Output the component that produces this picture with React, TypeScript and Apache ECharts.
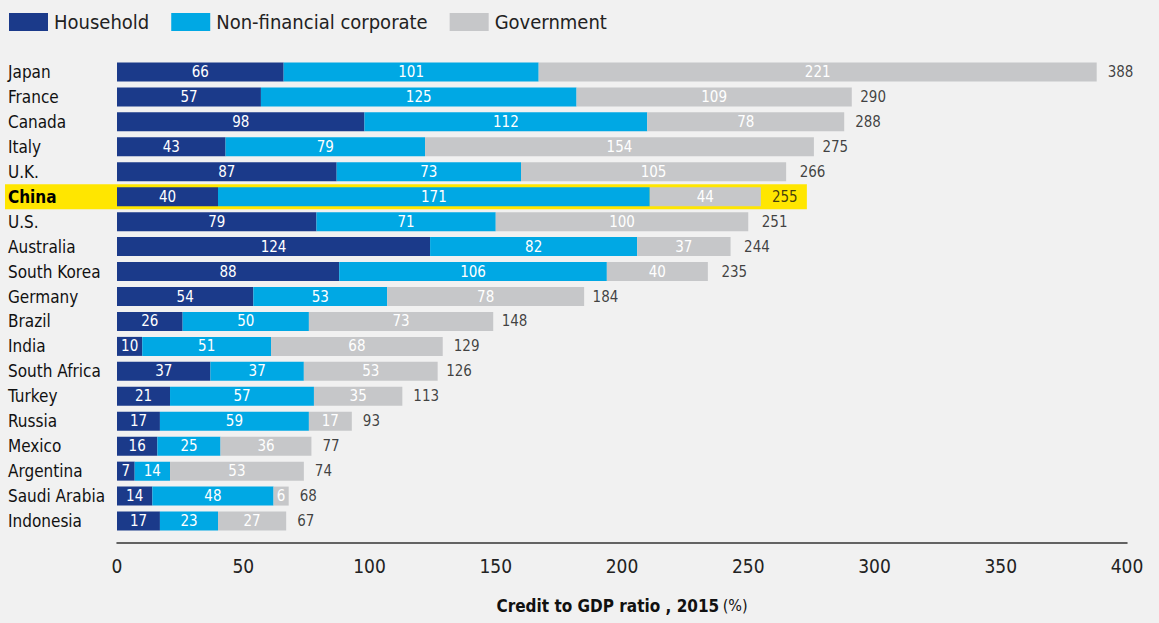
import React, { useEffect, useRef } from "react";
import * as echarts from "echarts";

const countries = [
  "Japan", "France", "Canada", "Italy", "U.K.", "China", "U.S.", "Australia",
  "South Korea", "Germany", "Brazil", "India", "South Africa", "Turkey", "Russia",
  "Mexico", "Argentina", "Saudi Arabia", "Indonesia",
];
const household = [66, 57, 98, 43, 87, 40, 79, 124, 88, 54, 26, 10, 37, 21, 17, 16, 7, 14, 17];
const corporate = [101, 125, 112, 79, 73, 171, 71, 82, 106, 53, 50, 51, 37, 57, 59, 25, 14, 48, 23];
const government = [221, 109, 78, 154, 105, 44, 100, 37, 40, 78, 73, 68, 53, 35, 17, 36, 53, 6, 27];
const totals = [388, 290, 288, 275, 266, 255, 251, 244, 235, 184, 148, 129, 126, 113, 93, 77, 74, 68, 67];
const xTicks = [0, 50, 100, 150, 200, 250, 300, 350, 400];

const FONT = "'Liberation Sans Narrow', 'DejaVu Sans Condensed', 'Roboto', sans-serif";
const C_HH = "#1b3a8a";
const C_CORP = "#00a8e4";
const C_GOV = "#c6c7c9";

export default function App() {
  const ref = useRef<HTMLDivElement>(null);
  useEffect(() => {
    if (!ref.current) return;
    const chart = echarts.init(ref.current, null, { renderer: "svg" });
    const inLabel = {
      show: true,
      position: "inside" as const,
      color: "#ffffff",
      fontSize: 15,
      fontFamily: FONT,
    };
    const barCommon = {
      type: "bar" as const,
      stack: "total",
      barWidth: 19,
      label: inLabel,
      emphasis: { disabled: true },
      z: 3,
    };
    chart.setOption({
      animation: false,
      backgroundColor: "#f1f1f1",
      textStyle: { fontFamily: FONT },
      legend: {
        left: 9,
        top: 12,
        padding: 0,
        itemWidth: 39,
        itemHeight: 18,
        itemGap: 22,
        selectedMode: false,
        icon: "rect",
        textStyle: { fontSize: 20, color: "#222", fontFamily: FONT, padding: [0, 0, 0, 1] },
        data: ["Household", "Non-financial corporate", "Government"],
      },
      grid: { left: 117, right: 32, top: 59.5, bottom: 89.5, containLabel: false },
      xAxis: {
        type: "value",
        min: 0,
        max: 400,
        interval: 50,
        offset: 9.5,
        axisLine: { show: true, lineStyle: { color: "#333", width: 1.5 } },
        axisTick: { show: false },
        splitLine: { show: false },
        axisLabel: {
          fontSize: 19,
          color: "#222",
          margin: 13,
          fontFamily: FONT,
          formatter: (v: number) => (xTicks.includes(v) ? String(v) : ""),
        },
        name: "{b|Credit to GDP ratio , 2015} {n|(%)}",
        nameLocation: "middle",
        nameGap: 54,
        nameTextStyle: {
          rich: {
            b: { fontSize: 17, fontWeight: "bold", color: "#111", fontFamily: FONT },
            n: { fontSize: 16, color: "#111", fontFamily: FONT },
          },
        },
      },
      yAxis: {
        type: "category",
        inverse: true,
        data: countries,
        axisLine: { show: false },
        axisTick: { show: false },
        axisLabel: {
          align: "left",
          margin: 109,
          fontSize: 17,
          color: "#111",
          fontFamily: FONT,
          formatter: (v: string) => (v === "China" ? "{b|" + v + "}" : v),
          rich: { b: { fontWeight: "bold", fontSize: 17, color: "#000", fontFamily: FONT } },
        },
      },
      series: [
        { ...barCommon, name: "Household", data: household, itemStyle: { color: C_HH } },
        { ...barCommon, name: "Non-financial corporate", data: corporate, itemStyle: { color: C_CORP } },
        { ...barCommon, name: "Government", data: government, itemStyle: { color: C_GOV } },
        {
          type: "scatter",
          name: "Total",
          data: totals.map((t, i) => [t, countries[i]]),
          symbolSize: 0,
          silent: true,
          z: 4,
          label: {
            show: true,
            position: "right",
            distance: 11,
            color: "#111",
            fontSize: 15,
            fontFamily: FONT,
            formatter: (p: any) => String(p.value[0]),
          },
        },
      ],
    });
    const ci = countries.indexOf("China");
    const cy = chart.convertToPixel({ yAxisIndex: 0 }, countries[ci]) as number;
    const xr = chart.convertToPixel({ xAxisIndex: 0 }, totals[ci]) as number;
    chart.setOption({
      graphic: {
        elements: [
          {
            type: "rect",
            z: -10,
            silent: true,
            shape: { x: 5, y: cy - 12.5, width: xr + 46 - 5, height: 25 },
            style: { fill: "#ffe600" },
          },
        ],
      },
    });
    return () => chart.dispose();
  }, []);
  return (
    <div
      ref={ref}
      style={{ position: "absolute", left: 0, top: 0, width: 1159, height: 623 }}
    />
  );
}
